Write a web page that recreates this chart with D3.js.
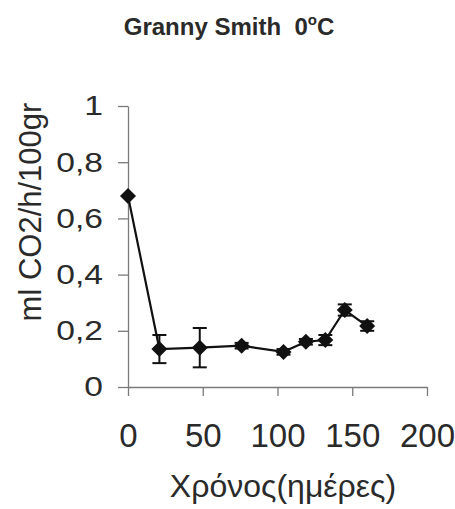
<!DOCTYPE html>
<html>
<head>
<meta charset="utf-8">
<script src="https://cdn.jsdelivr.net/npm/d3@7"></script>
<style>
  body { margin: 0; background: #fff; }
  text { font-family: "Liberation Sans", Arial, sans-serif; fill: #2a2a2a; }
</style>
</head>
<body>
<div id="chart"></div>
<script>
const days = [0, 21, 48, 76, 104, 119, 132, 145, 160];
const co2 = [0.68, 0.135, 0.14, 0.147, 0.125, 0.161, 0.167, 0.274, 0.217];
const err = [0, 0.05, 0.07, 0.01, 0.01, 0.01, 0.018, 0.02, 0.017];
const xTicks = [0, 50, 100, 150, 200];
const yTicks = [0, 0.2, 0.4, 0.6, 0.8, 1];

const width = 455, height = 509;
const data = days.map((d, i) => ({ day: d, v: co2[i], e: err[i] }));

const svg = d3.select("#chart").append("svg")
  .attr("width", width)
  .attr("height", height);

const x = d3.scaleLinear().domain([0, 200]).range([128, 427]);
const y = d3.scaleLinear().domain([0, 1]).range([387, 106]);

const fmt = d => d3.format(".1~f")(d).replace(".", ",");
const stretch = 1.2;

// y axis
const gy = svg.append("g")
  .attr("transform", `translate(${x(0)},0)`)
  .call(d3.axisLeft(y).tickValues(yTicks).tickSize(10).tickSizeOuter(0).tickFormat(fmt));
gy.select(".domain").attr("stroke", "#7a7a7a").attr("stroke-width", 1.3);
gy.selectAll(".tick line").attr("stroke", "#7a7a7a").attr("stroke-width", 1.3);
gy.selectAll(".tick text")
  .attr("x", -25 / stretch)
  .attr("transform", `scale(${stretch},1)`)
  .attr("font-size", 28)
  .attr("font-family", "Liberation Sans, Arial, sans-serif")
  .attr("fill", "#2a2a2a");

// x axis
const gx = svg.append("g")
  .attr("transform", `translate(0,${y(0)})`)
  .call(d3.axisBottom(x).tickValues(xTicks).tickSize(9).tickSizeOuter(0));
gx.select(".domain").attr("stroke", "#7a7a7a").attr("stroke-width", 1.3);
gx.selectAll(".tick line").attr("stroke", "#7a7a7a").attr("stroke-width", 1.3);
gx.selectAll(".tick text")
  .attr("y", 60)
  .attr("dy", 0)
  .attr("font-size", 33)
  .attr("font-family", "Liberation Sans, Arial, sans-serif")
  .attr("fill", "#2a2a2a");

// error bars
const eb = svg.append("g").attr("stroke", "#111").attr("stroke-width", 2);
data.filter(d => d.e > 0).forEach(d => {
  eb.append("line").attr("x1", x(d.day)).attr("x2", x(d.day))
    .attr("y1", y(d.v - d.e)).attr("y2", y(d.v + d.e));
  [d.v - d.e, d.v + d.e].forEach(v => {
    eb.append("line").attr("x1", x(d.day) - 7).attr("x2", x(d.day) + 7)
      .attr("y1", y(v)).attr("y2", y(v));
  });
});

// line
svg.append("path")
  .datum(data)
  .attr("fill", "none")
  .attr("stroke", "#111")
  .attr("stroke-width", 2.2)
  .attr("d", d3.line().x(d => x(d.day)).y(d => y(d.v)));

// diamond markers
svg.selectAll(".pt")
  .data(data)
  .join("path")
  .attr("class", "pt")
  .attr("transform", d => `translate(${x(d.day)},${y(d.v)})`)
  .attr("d", "M0,-8L8,0L0,8L-8,0Z")
  .attr("fill", "#111");

// title
svg.append("text")
  .attr("x", 229).attr("y", 35)
  .attr("text-anchor", "middle")
  .attr("font-size", 24)
  .attr("font-weight", "bold")
  .attr("fill", "#333")
  .html('Granny Smith&#160;&#160;0<tspan dy="-10" font-size="15">o</tspan><tspan dy="10">C</tspan>');

// axis titles
svg.append("text")
  .attr("transform", "translate(41,212) rotate(-90)")
  .attr("text-anchor", "middle")
  .attr("font-size", 31)
  .text("ml CO2/h/100gr");

svg.append("text")
  .attr("x", 283).attr("y", 497)
  .attr("text-anchor", "middle")
  .attr("font-size", 32)
  .text("Χρόνος(ημέρες)");
</script>
</body>
</html>
